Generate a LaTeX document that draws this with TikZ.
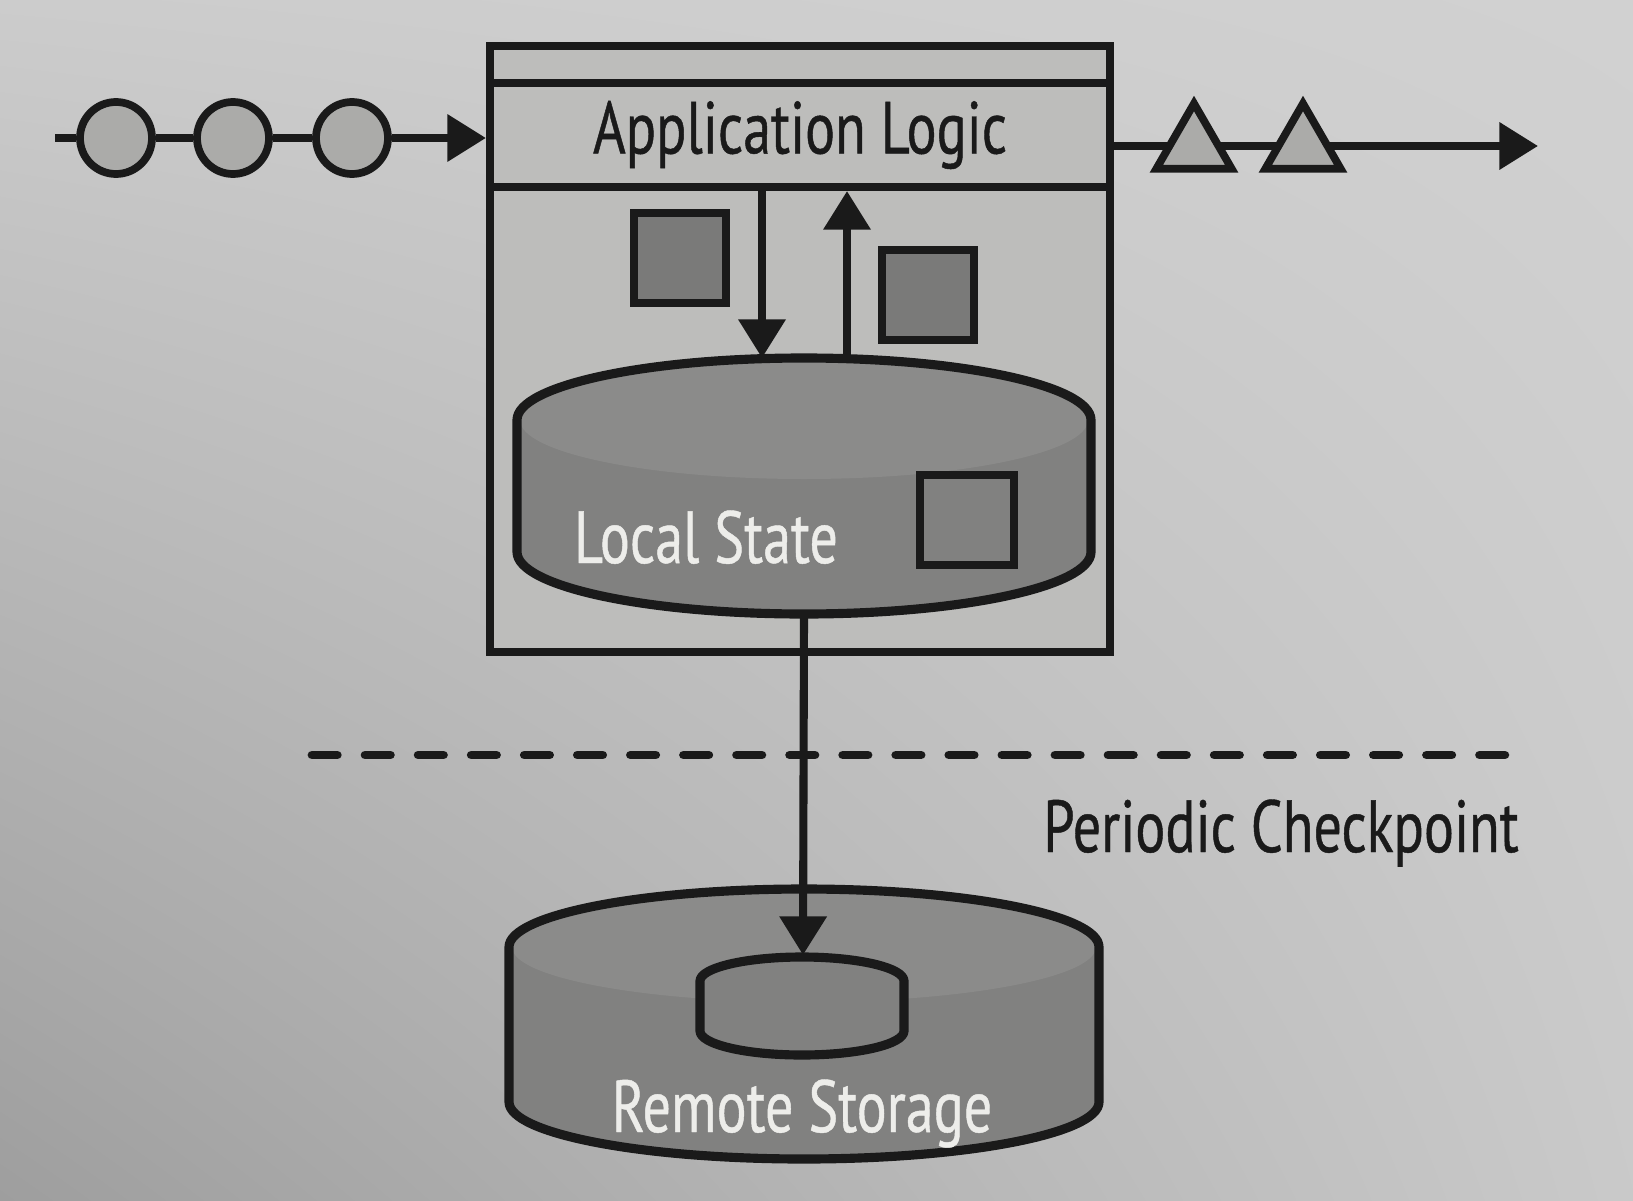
\documentclass[tikz,border=0pt]{standalone}
\usepackage{fontspec}
\setmainfont{PT Sans}[FakeStretch=0.76, FakeBold=0.6]
\usepackage{xcolor}
\usetikzlibrary{arrows.meta,shapes.geometric,shadings}
\definecolor{ink}{HTML}{1A1A1A}
\definecolor{boxgray}{HTML}{BDBDBB}
\definecolor{tokengray}{HTML}{ABABA9}
\definecolor{itemgray}{HTML}{7A7A79}
\definecolor{storegray}{HTML}{818180}
\definecolor{storelight}{HTML}{8B8B8A}
\definecolor{labelwhite}{HTML}{EDEDEA}
\tikzset{
    ink-line/.style = {draw=ink, line width=2.3pt},
    flow-arrow/.style = {ink-line, -{Triangle[length=11pt, width=13pt]}},
    app-box/.style = {draw=ink, fill=boxgray, line width=2.3pt, rectangle, inner sep=0pt},
    logic-bar/.style = {app-box, font=\fontsize{21pt}{25pt}\selectfont, text=ink},
    record/.style = {draw=ink, fill=tokengray, line width=2.2pt, circle, inner sep=0pt, minimum size=7.2mm},
    result/.style = {draw=ink, fill=tokengray, line width=2.2pt, regular polygon, regular polygon sides=3, inner sep=0pt, minimum size=8.7mm},
    state-item/.style = {draw=ink, fill=itemgray, line width=2.4pt, rectangle, inner sep=0pt, minimum width=9.2mm, minimum height=9mm},
    store-label/.style = {text=labelwhite, font=\fontsize{21pt}{25pt}\selectfont, inner sep=0pt, anchor=base},
    plain-label/.style = {text=ink, font=\fontsize{21pt}{25pt}\selectfont, inner sep=0pt, anchor=base},
    store-line/.style = {draw=ink, line width=2.6pt, line join=round},
    cut-line/.style = {draw=ink, line width=2.5pt, line cap=round, dash pattern=on 7.2pt off 7.9pt},
}

\begin{document}
\begin{tikzpicture}[x=0.1mm, y=-0.1mm]
\useasboundingbox (0,0) rectangle (1633,1200);
\shade[upper left=white!80!black, upper right=white!82!black, lower left=white!62!black, lower right=white!79!black] (0,0) rectangle (1633,1200);

\node[app-box, minimum width=62mm, minimum height=60.6mm] (app) at (800,349) {};
\node[logic-bar, minimum width=62mm, minimum height=10.4mm] (logic) at (800,135) {Application Logic};

\coordinate (in-start) at (55,138);
\node[record] (rec1) at (116,138) {};
\node[record] (rec2) at (233,138) {};
\node[record] (rec3) at (352,138) {};
\draw[ink-line] (in-start) -- (rec1) -- (rec2) -- (rec3);
\draw[flow-arrow] (rec3) -- (logic.west |- rec3);

\coordinate (out-end) at (1538,146);
\draw[flow-arrow] (logic.east |- out-end) -- (out-end);
\node[result] (res1) at (1194,147) {};
\node[result] (res2) at (1303,147) {};

\node[state-item] (get-item) at (680,258) {};
\node[state-item] (put-item) at (928,295) {};

\fill[storegray] (517,420) arc[start angle=180, end angle=0, x radius=28.7mm, y radius=6.2mm] -- (1091,552) arc[start angle=0, end angle=-180, x radius=28.7mm, y radius=6.2mm] -- cycle;
\fill[storelight] (804,420) ellipse [x radius=28.4mm, y radius=5.9mm];
\draw[store-line] (517,420) arc[start angle=180, end angle=0, x radius=28.7mm, y radius=6.2mm] -- (1091,552) arc[start angle=0, end angle=-180, x radius=28.7mm, y radius=6.2mm] -- cycle;
\coordinate (local-read) at (762,358);
\coordinate (local-write) at (847,357);
\coordinate (local-bottom) at (804,614);
\node[state-item, minimum width=9.4mm, fill=storegray] (kept-item) at (967,520) {};
\node[store-label] (local) at (706,563) {Local State};

\draw[flow-arrow] (logic.south -| local-read) -- (local-read);
\draw[flow-arrow] (local-write) -- (logic.south -| local-write);

\coordinate (cut-west) at (312,755);
\coordinate (cut-east) at (1526,755);
\draw[cut-line] (cut-west) -- (cut-east);
\node[plain-label] (checkpoint) at (1281,852) {Periodic Checkpoint};

\fill[storegray] (509,947) arc[start angle=180, end angle=0, x radius=29.5mm, y radius=5.8mm] -- (1099,1102) arc[start angle=0, end angle=-180, x radius=29.5mm, y radius=5.7mm] -- cycle;
\fill[storelight] (804,947) ellipse [x radius=29.2mm, y radius=5.5mm];
\draw[store-line] (509,947) arc[start angle=180, end angle=0, x radius=29.5mm, y radius=5.8mm] -- (1099,1102) arc[start angle=0, end angle=-180, x radius=29.5mm, y radius=5.7mm] -- cycle;
\draw[store-line, fill=storegray] (700,981) arc[start angle=180, end angle=0, x radius=10.2mm, y radius=2.4mm] -- (904,1031) arc[start angle=0, end angle=-180, x radius=10.2mm, y radius=2.4mm] -- cycle;
\coordinate (remote-top) at (803,955);
\node[store-label] (remote) at (802,1132) {Remote Storage};

\draw[flow-arrow] (local-bottom) -- (remote-top);
\end{tikzpicture}
\end{document}
